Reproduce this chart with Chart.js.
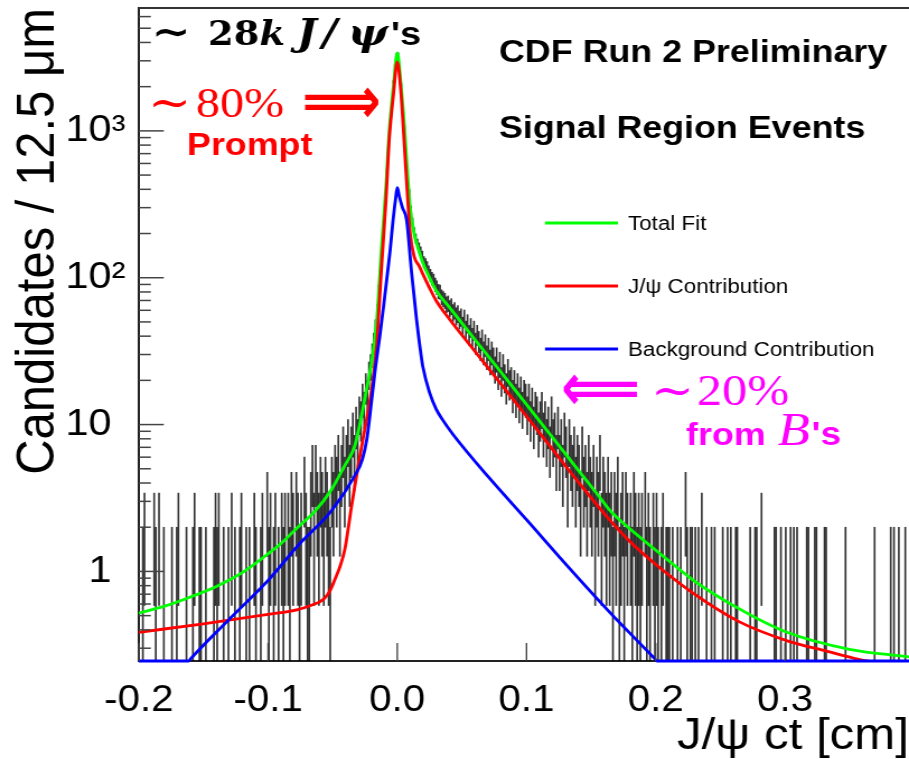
<!DOCTYPE html>
<html><head><meta charset="utf-8">
<script src="https://cdn.jsdelivr.net/npm/chart.js@4.4.1/dist/chart.umd.min.js"></script>
<style>html,body{margin:0;padding:0;background:#fff;overflow:hidden}</style></head>
<body><canvas id="c" width="812" height="759" style="display:block;width:909px;height:759px"></canvas>
<script>
// ---------------- data ----------------
const xStart = -0.2, binWidth = 0.00125;          // 12.5 um bins
const binCounts = [
0,0,1,2,0,0,0,0,0,2, 1,0,2,0,0,1,0,0,0,0,
1,0,0,1,2,0,0,0,0,1, 0,0,0,1,2,0,0,1,1,0,
0,1,0,0,0,0,1,2,1,2, 0,0,1,0,0,1,0,2,0,1,
0,0,1,2,0,0,1,0,1,0, 0,2,1,0,0,1,2,0,0,3,
1,2,0,1,2,0,1,0,2,1, 2,0,2,1,3,2,0,3,2,1,
2,0,4,2,1,1,3,5,2,5, 3,2,4,3,2,4,3,2,1,4,
3,5,4,6,3,5,7,4,6,8, 5,7,9,6,10,8,12,11,15,13,
18,16,22,25,30,36,45,58,80,105, 160,230,360,520,800,1150,1600,2150,2800,3300,
3350,2700,2050,1500,1050,730,520,380,290,240, 205,185,170,160,150,140,128,124,118,110,
104,99,96,90,86,81,80,74,72,70, 66,67,62,64,58,60,55,57,52,54,
47,53,44,49,41,46,39,44,36,41, 37,33,38,31,35,29,33,27,31,28,
24,28,22,26,20,25,21,18,23,19, 20,16,19,15,18,14,17,13,16,15,
12,15,11,14,10,13,12,9,11,13, 9,11,8,10,7,12,8,9,6,10,
6,8,5,9,7,4,8,6,5,7, 4,6,5,3,7,4,5,3,6,4,
3,5,2,4,3,6,2,4,3,2, 4,2,3,1,3,2,4,1,2,3,
1,3,2,0,2,1,3,2,1,2, 1,2,0,3,1,2,1,0,2,1,
2,1,0,1,2,0,1,1,1,0, 1,0,0,1,0,1,0,0,3,1,
0,1,1,0,1,0,1,0,2,0, 0,1,0,0,1,0,1,0,0,0,
0,1,0,0,1,0,1,0,0,1, 1,0,0,0,0,0,0,0,1,0,
0,1,1,0,0,2,0,0,0,0, 0,0,0,1,1,0,0,1,0,0,
1,0,0,1,0,1,0,1,0,0, 0,0,0,1,1,0,0,0,1,1,
0,0,0,0,1,1,0,0,0,0, 0,0,0,0,0,0,0,1,0,0,
0,0,0,0,0,0,0,0,0,0, 0,0,0,0,0,1,0,0,0,0,
0,0,0,0,0,1,0,1,0,0, 1,0,0,0,1,0
];

const totalFitX = [-0.200,-0.180,-0.160,-0.140,-0.120,-0.100,-0.090,-0.077,-0.064,-0.051,-0.041,-0.033,-0.029,-0.024,-0.020,-0.016,-0.0124,-0.0089,-0.0062,-0.003,0,0.003,0.0054,0.008,0.010,0.013,0.017,0.020,0.025,0.030,0.040,0.060,0.080,0.100,0.120,0.140,0.158,0.164,0.180,0.202,0.230,0.264,0.300,0.350,0.396];
const totalFitY = [0.52,0.58,0.67,0.79,0.98,1.32,1.55,2.0,2.55,3.6,5.2,7.1,10,17,26,50,150,400,1000,2000,3400,2000,1100,500,300,200,150,125,100,82,63.5,38,22.9,13.7,8.2,4.9,3.09,2.64,1.95,1.35,0.86,0.56,0.39,0.295,0.262];

const jpsiX = [-0.200,-0.150,-0.100,-0.077,-0.064,-0.060,-0.056,-0.052,-0.0483,-0.044,-0.0406,-0.0354,-0.0303,-0.0266,-0.020,-0.016,-0.0124,-0.0089,-0.0062,-0.003,0,0.003,0.0054,0.008,0.010,0.013,0.017,0.020,0.025,0.030,0.040,0.060,0.080,0.100,0.120,0.140,0.164,0.180,0.202,0.230,0.264,0.303,0.330,0.357,0.370];
const jpsiY = [0.385,0.44,0.51,0.55,0.60,0.62,0.66,0.74,0.88,1.1,1.41,2.78,5.2,7.9,17,34,110,320,880,1750,2950,1750,820,350,200,140,120,105,85,70,52.7,31.6,19.0,11.4,6.8,4.07,2.26,1.6,1.08,0.70,0.457,0.334,0.29,0.252,0.24];

const bkgX = [-0.200,-0.1613,-0.1598,-0.1303,-0.0994,-0.0769,-0.0508,-0.0328,-0.027,-0.0235,-0.0205,-0.017,-0.0135,-0.0105,-0.0083,-0.0055,-0.0032,-0.0012,0,0.0015,0.0040,0.0072,0.0110,0.0149,0.0175,0.0197,0.025,0.030,0.035,0.043,0.070,0.100,0.130,0.165,0.1992,0.2009,0.396];
const bkgY = [0.2455,0.2455,0.2547,0.47,0.88,1.50,2.6,4.5,5.8,8,13,24,40,65,95,155,250,350,410,360,300,248,110,52,34,25,16.5,12.8,10.8,8.6,4.45,2.25,1.13,0.52,0.2547,0.2455,0.2455];

const xTickValues = [-0.2,-0.1,0,0.1,0.2,0.3];
const xTickLabels = ['-0.2','-0.1','0.0','0.1','0.2','0.3'];
const yTickValues = [1,10,100,1000];
const yTickLabels = ['1','10','10²','10³'];
const Y_MIN = 0.2455, Y_MAX = 6866, X_MIN = -0.2, X_MAX = 0.396;

// ---------------- helpers ----------------
const S = 909/812;   // horizontal stretch of the original picture
const SANS = "'Liberation Sans', Arial, Helvetica, sans-serif";
const SERIF = "'Liberation Serif', 'Times New Roman', serif";
const DSERIF = "'DejaVu Serif', serif";
const DSANS = "'DejaVu Sans', sans-serif";

const pts = (xs, ys) => xs.map((x, i) => ({x, y: ys[i]}));
const errorBars = [];
binCounts.forEach((n, i) => {
  if (n > 0) {
    const e = Math.sqrt(n);
    errorBars.push({x: xStart + (i + 0.5) * binWidth, y: [Math.max(n - e, Y_MIN), n + e]});
  }
});

function txt(ctx, s, xs, y, font, color, align, baseline) {
  ctx.font = font; ctx.fillStyle = color;
  ctx.textAlign = align || 'left'; ctx.textBaseline = baseline || 'alphabetic';
  ctx.fillText(s, xs / S, y);
  return xs + ctx.measureText(s).width * S;
}
function arrowGlyph(ctx, ch, xs, xe, yc, color) {
  ctx.font = 'bold 100px ' + DSANS;
  const w = ctx.measureText(ch).width;
  const size = 100 * ((xe - xs) / S) / w;
  ctx.save();
  ctx.translate(xs / S, yc);
  ctx.scale(1, 1.35);
  ctx.font = 'bold ' + size.toFixed(1) + 'px ' + DSANS;
  ctx.fillStyle = color; ctx.textAlign = 'left'; ctx.textBaseline = 'middle';
  ctx.fillText(ch, 0, 0);
  ctx.restore();
}

const decor = {
  id: 'decor',
  afterDatasetsDraw(chart) {
    const ctx = chart.ctx, ca = chart.chartArea;
    const xs = chart.scales.x, ys = chart.scales.y;
    ctx.save();
    // top frame
    ctx.strokeStyle = '#333'; ctx.lineWidth = 2;
    ctx.beginPath(); ctx.moveTo(ca.left, ca.top); ctx.lineTo(ca.right, ca.top); ctx.stroke();
    // y ticks (inside)
    ctx.strokeStyle = '#444'; ctx.lineWidth = 1.5;
    for (let d = 0.1; d < Y_MAX; d *= 10) {
      for (let m = 1; m <= 9; m++) {
        const v = m * d;
        if (v < Y_MIN || v > Y_MAX) continue;
        const y = ys.getPixelForValue(v);
        const len = (m === 1 ? 25 : 12) / S;
        ctx.beginPath(); ctx.moveTo(ca.left, y); ctx.lineTo(ca.left + len, y); ctx.stroke();
      }
    }
    // x ticks (inside)
    ctx.lineWidth = 1.5 / S;
    xTickValues.forEach(v => {
      const x = xs.getPixelForValue(v);
      ctx.beginPath(); ctx.moveTo(x, ca.bottom); ctx.lineTo(x, ca.bottom - 18); ctx.stroke();
    });
    // legend
    const legendY = [223, 286, 349];
    chart.data.datasets.slice(0, 3).forEach((ds, k) => {
      ctx.strokeStyle = ds.borderColor; ctx.lineWidth = 3;
      ctx.beginPath(); ctx.moveTo(545 / S, legendY[k]); ctx.lineTo(618 / S, legendY[k]); ctx.stroke();
      txt(ctx, ds.label, 628, legendY[k] + 1, '20px ' + SANS, '#000', 'left', 'middle');
    });
    // header texts
    txt(ctx, 'CDF Run 2 Preliminary', 499, 62, 'bold 32px ' + SANS, '#000');
    txt(ctx, 'Signal Region Events', 499, 138, 'bold 32px ' + SANS, '#000');
    // ~ 28k J/psi's
    txt(ctx, '∼', 151, 46, 'bold 42px ' + DSERIF, '#000');
    const x0 = txt(ctx, '28', 208, 45, 'bold 33px ' + DSERIF, '#000');
    txt(ctx, 'k', x0, 45, 'bold italic 33px ' + DSERIF, '#000');
    txt(ctx, 'J', 297, 45, 'bold italic 37px ' + DSERIF, '#000');
    txt(ctx, '/', 322, 45, 'bold italic 37px ' + DSERIF, '#000');
    txt(ctx, 'ψ', 348, 45, 'bold italic 38px ' + DSERIF, '#000');
    txt(ctx, "'s", 391, 45, 'bold 34px ' + SANS, '#000');
    // ~80% prompt
    txt(ctx, '∼', 148, 118, '46px ' + DSERIF, '#ff0000');
    txt(ctx, '80%', 196, 117, '43px ' + SERIF, '#ff0000');
    arrowGlyph(ctx, '⟹', 302, 381, 106, '#ff0000');
    txt(ctx, 'Prompt', 187, 155, 'bold 32px ' + SANS, '#ff0000');
    // ~20% from B's
    arrowGlyph(ctx, '⟸', 561, 640, 393, '#ff00ff');
    txt(ctx, '∼', 651, 406, '46px ' + DSERIF, '#ff00ff');
    txt(ctx, '20%', 697, 405, '45px ' + SERIF, '#ff00ff');
    let x = txt(ctx, 'from', 686, 445, 'bold 32px ' + SANS, '#ff00ff');
    x = txt(ctx, 'B', x + 12, 445, 'italic 47px ' + SERIF, '#ff00ff');
    txt(ctx, "'s", x + 2, 445, 'bold 33px ' + SANS, '#ff00ff');
    ctx.restore();
  }
};

const lineDs = (label, xsArr, ysArr, color, order, extra) => Object.assign({
  type: 'line', label, data: pts(xsArr, ysArr), borderColor: color, backgroundColor: color,
  borderWidth: 2.8, pointRadius: 0, fill: false, cubicInterpolationMode: 'monotone', order
}, extra || {});

new Chart(document.getElementById('c'), {
  type: 'bar',
  data: {
    datasets: [
      lineDs('Total Fit', totalFitX, totalFitY, '#00ff00', 3),
      lineDs('J/ψ Contribution', jpsiX, jpsiY, '#ff0000', 2),
      lineDs('Background Contribution', bkgX, bkgY, '#0000ff', 1,
             {clip: {left: 0, top: 0, right: 0, bottom: 2}}),
      {type: 'bar', label: 'Data', data: errorBars, backgroundColor: 'rgba(0,0,0,0.8)',
       barThickness: 1, grouped: false, order: 10, borderWidth: 0}
    ]
  },
  options: {
    responsive: false, animation: false, devicePixelRatio: 1,
    layout: {padding: {top: 8, left: 0, right: 0, bottom: 0}},
    plugins: {legend: {display: false}, tooltip: {enabled: false}},
    scales: {
      x: {
        type: 'linear', min: X_MIN, max: X_MAX, offset: false,
        grid: {display: false, drawTicks: false},
        border: {display: true, color: '#222', width: 2},
        afterBuildTicks: ax => { ax.ticks = xTickValues.map(v => ({value: v})); },
        ticks: {callback: (v, i) => xTickLabels[i], font: {family: SANS, size: 36}, color: '#000',
                padding: 18, maxRotation: 0, autoSkip: false},
        title: {display: true, text: 'J/ψ ct [cm]', align: 'end', color: '#000',
                font: {family: SANS, size: 44, lineHeight: 1}, padding: {top: 0, bottom: 0}},
        afterFit: ax => { ax.height = 98; ax.paddingLeft = 0; ax.paddingRight = 0; }
      },
      y: {
        type: 'logarithmic', min: Y_MIN, max: Y_MAX,
        grid: {display: false, drawTicks: false},
        border: {display: true, color: '#222', width: 2},
        afterBuildTicks: ax => { ax.ticks = yTickValues.map(v => ({value: v})); },
        ticks: {callback: (v, i) => yTickLabels[i] + (/[²³]/.test(yTickLabels[i]) ? '' : '\u2004'),
                font: {family: SANS, size: 37}, color: '#000', padding: 12, autoSkip: false},
        title: {display: true, text: 'Candidates / 12.5 μm', align: 'end', color: '#000',
                font: {family: SANS, size: 49, lineHeight: 1}, padding: {top: 10, bottom: 0}},
        afterFit: ax => { ax.width = 124; ax.paddingTop = 0; ax.paddingBottom = 0; }
      }
    }
  },
  plugins: [decor]
});
</script>
</body></html>
